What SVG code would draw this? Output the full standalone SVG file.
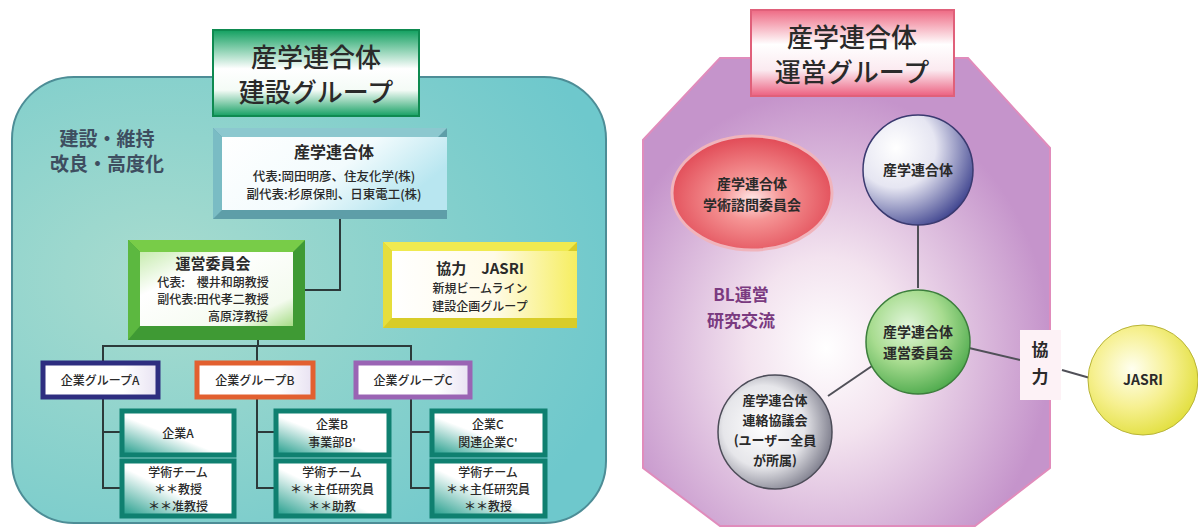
<svg xmlns="http://www.w3.org/2000/svg" width="1198" height="529" viewBox="0 0 1198 529">
<defs>
<style>
.t{font-family:"Noto Sans CJK JP","Noto Sans",sans-serif;fill:#2a2a2a;text-anchor:middle}
.b{font-weight:bold}
.m{font-weight:500}
.ln{stroke:#2c3a3a;stroke-width:2;fill:none}
.lr{stroke:#505058;stroke-width:2;fill:none}
</style>
<radialGradient id="teal" cx="0.25" cy="0.45" r="0.8">
<stop offset="0" stop-color="#a9dccf"/><stop offset="0.6" stop-color="#85d0cc"/><stop offset="1" stop-color="#6ec8cc"/>
</radialGradient>
<radialGradient id="oct" cx="0.45" cy="0.62" r="0.55">
<stop offset="0" stop-color="#ffffff"/><stop offset="0.35" stop-color="#f3e3ef"/><stop offset="1" stop-color="#c594cb"/>
</radialGradient>
<linearGradient id="gTitle" x1="0" y1="0" x2="0" y2="1">
<stop offset="0" stop-color="#12a060"/><stop offset="0.45" stop-color="#ffffff"/><stop offset="0.7" stop-color="#f4fbf6"/><stop offset="1" stop-color="#16a064"/>
</linearGradient>
<linearGradient id="pTitle" x1="0" y1="0" x2="0" y2="1">
<stop offset="0" stop-color="#ee6a84"/><stop offset="0.4" stop-color="#ffffff"/><stop offset="0.7" stop-color="#fbeaf0"/><stop offset="1" stop-color="#ec6080"/>
</linearGradient>
<linearGradient id="inCyan" x1="0" y1="0" x2="1" y2="0.4">
<stop offset="0" stop-color="#ffffff"/><stop offset="0.6" stop-color="#f2fbfd"/><stop offset="1" stop-color="#b8e6f0"/>
</linearGradient>
<linearGradient id="inGreen" x1="0" y1="0" x2="1" y2="1">
<stop offset="0" stop-color="#c8ecb0"/><stop offset="0.3" stop-color="#ffffff"/><stop offset="0.8" stop-color="#f4fbef"/><stop offset="1" stop-color="#a6dc86"/>
</linearGradient>
<linearGradient id="inYellow" x1="0" y1="0" x2="1" y2="0">
<stop offset="0" stop-color="#ffffff"/><stop offset="0.55" stop-color="#fffbe8"/><stop offset="1" stop-color="#f6ee60"/>
</linearGradient>
<linearGradient id="inChild" x1="0" y1="1" x2="1" y2="0">
<stop offset="0" stop-color="#1c9a88"/><stop offset="0.45" stop-color="#ffffff"/><stop offset="1" stop-color="#ffffff"/>
</linearGradient>
<linearGradient id="inGrp" x1="0" y1="0" x2="1" y2="0">
<stop offset="0" stop-color="#ffffff"/><stop offset="0.7" stop-color="#ffffff"/><stop offset="1" stop-color="#e8e2f2"/>
</linearGradient>
<radialGradient id="cRed" cx="0.5" cy="0.55" r="0.55">
<stop offset="0" stop-color="#ffe6e6"/><stop offset="0.35" stop-color="#f59494"/><stop offset="1" stop-color="#e14a56"/>
</radialGradient>
<radialGradient id="cBlue" cx="0.3" cy="0.3" r="0.8">
<stop offset="0" stop-color="#ffffff"/><stop offset="0.45" stop-color="#e6e6f2"/><stop offset="1" stop-color="#3a3f8c"/>
</radialGradient>
<radialGradient id="cGreen" cx="0.4" cy="0.35" r="0.7">
<stop offset="0" stop-color="#e2f6dc"/><stop offset="0.5" stop-color="#a8dc90"/><stop offset="1" stop-color="#4aa84a"/>
</radialGradient>
<radialGradient id="cGray" cx="0.4" cy="0.45" r="0.65">
<stop offset="0" stop-color="#ffffff"/><stop offset="0.55" stop-color="#e6e6ea"/><stop offset="1" stop-color="#707080"/>
</radialGradient>
<radialGradient id="cYellow" cx="0.4" cy="0.4" r="0.7">
<stop offset="0" stop-color="#fffff0"/><stop offset="0.5" stop-color="#f6f090"/><stop offset="1" stop-color="#dedc30"/>
</radialGradient>
</defs>
<rect width="1198" height="529" fill="#ffffff"/>

<!-- panels -->
<g id="panel-build">
<rect x="12" y="77" width="594" height="446" rx="62" ry="62" fill="url(#teal)" stroke="#4d8d96" stroke-width="2"/>
</g>
<g id="panel-ops">
<polygon points="720,58 968,58 1050,148 1050,468 975,526 720,526 643,468 643,140" fill="url(#oct)" stroke="#e08cbc" stroke-width="2"/>
</g>

<g id="connectors">
<path class="ln" d="M340 218 V290 H305"/>
<path class="ln" d="M258 340 V346"/>
<path class="ln" d="M103 362 V346 H411 V362"/>
<path class="ln" d="M257 346 V362"/>
<path class="ln" d="M103 396 V488 H120 M103 432 H120"/>
<path class="ln" d="M257 396 V488 H274 M257 432 H274"/>
<path class="ln" d="M411 396 V488 H430 M411 432 H430"/>
<path class="lr" d="M918 224 V288"/>
<path class="lr" d="M872 366 L828 396"/>
<path class="lr" d="M969 348 L1020 360"/>
<path class="lr" d="M1062 370 L1090 378"/>
</g>

<g id="title-build">
<rect x="213" y="30" width="206" height="86" fill="url(#gTitle)" stroke="#0e8a50" stroke-width="2"/>
<text class="t m" x="316" y="67" font-size="26">産学連合体</text>
<text class="t m" x="316" y="102" font-size="26">建設グループ</text>
</g>

<g id="label-build">
<text class="t b" x="107" y="146" font-size="19" style="fill:#3e4e60">建設・維持</text>
<text class="t b" x="107" y="171" font-size="19" style="fill:#3e4e60">改良・高度化</text>
</g>

<g id="consortium">
<rect x="213" y="128" width="234" height="91" fill="#5e9ea8"/>
<polygon points="213,128 447,128 438,137 222,137" fill="#8cc8cf"/>
<polygon points="213,128 222,137 222,210 213,219" fill="#7abcc4"/>
<rect x="222" y="137" width="225" height="73" fill="url(#inCyan)"/>
<text class="t b" x="334" y="158" font-size="16">産学連合体</text>
<text class="t m" x="334" y="181" font-size="12.5">代表:岡田明彦、住友化学(株)</text>
<text class="t m" x="334" y="199" font-size="12.5">副代表:杉原保則、日東電工(株)</text>
</g>

<g id="committee">
<rect x="128" y="240" width="177" height="100" fill="#3f9a34"/>
<polygon points="128,240 305,240 293,252 140,252" fill="#78cc48"/>
<polygon points="128,240 140,252 140,326 128,340" fill="#5cb840"/>
<rect x="140" y="252" width="153" height="74" fill="url(#inGreen)"/>
<text class="t b" x="213" y="269" font-size="15">運営委員会</text>
<text class="t m" x="213" y="287" font-size="12">代表:　櫻井和朗教授</text>
<text class="t m" x="213" y="304" font-size="12">副代表:田代孝二教授</text>
<text class="t m" x="238" y="321" font-size="12">高原淳教授</text>
</g>

<g id="jasri-coop">
<rect x="383" y="242" width="194" height="86" fill="#d8cc28"/>
<polygon points="383,242 577,242 568,251 392,251" fill="#f0ea50"/>
<polygon points="383,242 392,251 392,318 383,328" fill="#e6de3c"/>
<rect x="392" y="251" width="185" height="67" fill="url(#inYellow)"/>
<text class="t b" x="480" y="274" font-size="15">協力　JASRI</text>
<text class="t m" x="480" y="293" font-size="12">新規ビームライン</text>
<text class="t m" x="480" y="311" font-size="12">建設企画グループ</text>
</g>

<g id="group-a">
<rect x="43" y="363" width="115" height="34" fill="url(#inGrp)" stroke="#2e2e80" stroke-width="5"/>
<text class="t m" x="100" y="385" font-size="12">企業グループA</text>
</g>
<g id="group-b">
<rect x="197" y="363" width="116" height="34" fill="url(#inGrp)" stroke="#e26030" stroke-width="5"/>
<text class="t m" x="255" y="385" font-size="12">企業グループB</text>
</g>
<g id="group-c">
<rect x="356" y="363" width="114" height="34" fill="url(#inGrp)" stroke="#9a64b4" stroke-width="5"/>
<text class="t m" x="413" y="385" font-size="12">企業グループC</text>
</g>

<g id="company-a">
<rect x="122" y="411" width="112" height="44" fill="url(#inChild)" stroke="#0f8070" stroke-width="5"/>
<text class="t m" x="178" y="438" font-size="12">企業A</text>
</g>
<g id="academic-a">
<rect x="122" y="461" width="112" height="55" fill="url(#inChild)" stroke="#0f8070" stroke-width="5"/>
<text class="t m" x="178" y="477" font-size="12">学術チーム</text>
<text class="t m" x="178" y="494" font-size="12">＊＊教授</text>
<text class="t m" x="178" y="511" font-size="12">＊＊准教授</text>
</g>
<g id="company-b">
<rect x="276" y="411" width="113" height="44" fill="url(#inChild)" stroke="#0f8070" stroke-width="5"/>
<text class="t m" x="332" y="429" font-size="12">企業B</text>
<text class="t m" x="332" y="447" font-size="12">事業部B'</text>
</g>
<g id="academic-b">
<rect x="276" y="461" width="113" height="55" fill="url(#inChild)" stroke="#0f8070" stroke-width="5"/>
<text class="t m" x="332" y="477" font-size="12">学術チーム</text>
<text class="t m" x="332" y="494" font-size="12">＊＊主任研究員</text>
<text class="t m" x="332" y="511" font-size="12">＊＊助教</text>
</g>
<g id="company-c">
<rect x="432" y="411" width="113" height="44" fill="url(#inChild)" stroke="#0f8070" stroke-width="5"/>
<text class="t m" x="488" y="429" font-size="12">企業C</text>
<text class="t m" x="488" y="447" font-size="12">関連企業C'</text>
</g>
<g id="academic-c">
<rect x="432" y="461" width="113" height="55" fill="url(#inChild)" stroke="#0f8070" stroke-width="5"/>
<text class="t m" x="488" y="477" font-size="12">学術チーム</text>
<text class="t m" x="488" y="494" font-size="12">＊＊主任研究員</text>
<text class="t m" x="488" y="511" font-size="12">＊＊教授</text>
</g>

<g id="title-ops">
<rect x="751" y="10" width="203" height="86" fill="url(#pTitle)" stroke="#e0607a" stroke-width="2"/>
<text class="t m" x="852" y="47" font-size="26">産学連合体</text>
<text class="t m" x="852" y="82" font-size="26">運営グループ</text>
</g>

<g id="advisory">
<ellipse cx="752" cy="193" rx="80" ry="57" fill="url(#cRed)" stroke="#f0b4bc" stroke-width="3"/>
<text class="t b" x="752" y="189" font-size="14">産学連合体</text>
<text class="t b" x="752" y="210" font-size="14">学術諮問委員会</text>
</g>

<g id="consortium-circle">
<circle cx="918" cy="170" r="55" fill="url(#cBlue)" stroke="#3a3a70" stroke-width="1.5"/>
<text class="t b" x="918" y="175" font-size="14">産学連合体</text>
</g>

<g id="label-bl">
<text class="t b" x="741" y="301" font-size="17" style="fill:#7a3a80">BL運営</text>
<text class="t b" x="741" y="327" font-size="17" style="fill:#7a3a80">研究交流</text>
</g>

<g id="ops-committee">
<circle cx="918" cy="342" r="52" fill="url(#cGreen)" stroke="#3c7e3c" stroke-width="1.5"/>
<text class="t b" x="918" y="337" font-size="14">産学連合体</text>
<text class="t b" x="918" y="358" font-size="14">運営委員会</text>
</g>

<g id="liaison">
<circle cx="775" cy="432" r="57" fill="url(#cGray)" stroke="#4c4c58" stroke-width="1.5"/>
<text class="t b" x="775" y="405" font-size="13">産学連合体</text>
<text class="t b" x="775" y="425" font-size="13">連絡協議会</text>
<text class="t b" x="775" y="445" font-size="13">(ユーザー全員</text>
<text class="t b" x="775" y="465" font-size="13">が所属)</text>
</g>

<g id="coop-label">
<rect x="1020" y="330" width="41" height="70" fill="#fdf2f6"/>
<text class="t b" x="1040" y="356" font-size="17">協</text>
<text class="t b" x="1040" y="383" font-size="17">力</text>
</g>

<g id="jasri">
<circle cx="1143" cy="380" r="55" fill="url(#cYellow)" stroke="#b8b438" stroke-width="1"/>
<text class="t b" x="1143" y="385" font-size="14">JASRI</text>
</g>
</svg>
